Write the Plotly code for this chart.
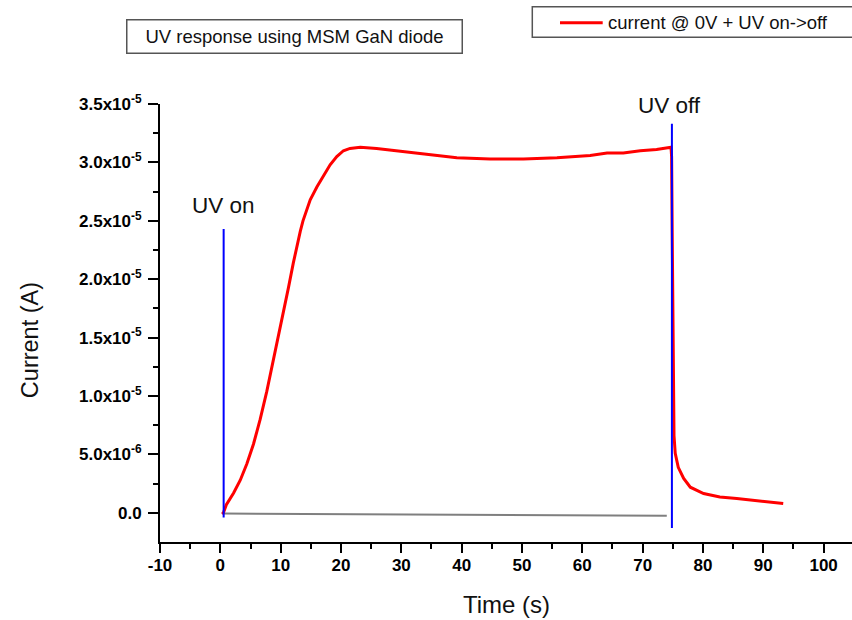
import numpy as np
import plotly.graph_objects as go

# ---- data (current in units of 1e-5 A) ----
time_s = [0.3, 0.5, 1.0, 1.5, 2.2, 3.3, 4.4, 5.5, 6.6, 7.7, 8.8, 9.7, 10.5, 11.3, 12.1,
          12.7, 13.25, 13.7, 14.3, 14.9, 16.0, 17.1, 18.2, 19.3, 20.4, 21.5, 23.2, 25.9,
          29.3, 32.6, 35.9, 39.2, 44.7, 50.25, 55.8, 58.5, 61.3, 64.1, 66.8, 69.6, 72.3,
          74.7, 74.8, 74.9, 75.0, 75.1, 75.2, 75.4, 75.9, 76.8, 77.9, 80.1, 82.8, 85.6,
          89.5, 93.3]
current_1e5A = [-0.01, 0.00, 0.07, 0.11, 0.17, 0.28, 0.42, 0.59, 0.80, 1.04, 1.31, 1.52, 1.71,
                1.93, 2.14, 2.29, 2.41, 2.50, 2.60, 2.68, 2.79, 2.89, 2.98, 3.05, 3.10, 3.12,
                3.13, 3.12, 3.10, 3.08, 3.06, 3.04, 3.03, 3.03, 3.04, 3.05, 3.06, 3.08, 3.08,
                3.10, 3.11, 3.13, 3.05, 2.40, 1.60, 1.00, 0.66, 0.51, 0.39, 0.295, 0.22,
                0.166, 0.137, 0.123, 0.103, 0.08]

baseline_t = [0.55, 25.0, 50.0, 74.0]
baseline_1e5A = [-0.005, -0.010, -0.018, -0.025]

uv_on_t = [0.55, 0.55]
uv_on_1e5A = [-0.04, 2.43]
uv_off_t = [74.85, 74.85]
uv_off_1e5A = [-0.13, 3.33]

x_ticks = list(range(-10, 101, 10))
x_tick_text = ["-10", "0", "10", "20", "30", "40", "50", "60", "70", "80", "90", "100"]
y_tick_vals_1e5 = [0.0, 0.5, 1.0, 1.5, 2.0, 2.5, 3.0, 3.5]
y_tick_text = ["0.0", "5.0x10<sup>-6</sup>", "1.0x10<sup>-5</sup>", "1.5x10<sup>-5</sup>",
               "2.0x10<sup>-5</sup>", "2.5x10<sup>-5</sup>", "3.0x10<sup>-5</sup>",
               "3.5x10<sup>-5</sup>"]
series_name = "current @ 0V + UV on->off"

SCALE = 1e-5
FONT = "Arial, Liberation Sans, sans-serif"

fig = go.Figure()
fig.add_trace(go.Scatter(x=baseline_t, y=np.array(baseline_1e5A) * SCALE, mode="lines",
                         line=dict(color="#7f7f7f", width=2), showlegend=False, hoverinfo="skip"))
fig.add_trace(go.Scatter(x=time_s, y=np.array(current_1e5A) * SCALE, mode="lines",
                         line=dict(color="#ff0000", width=3), name=series_name,
                         showlegend=False))
fig.add_trace(go.Scatter(x=uv_on_t, y=np.array(uv_on_1e5A) * SCALE, mode="lines",
                         line=dict(color="#0000ff", width=2), showlegend=False))
fig.add_trace(go.Scatter(x=uv_off_t, y=np.array(uv_off_1e5A) * SCALE, mode="lines",
                         line=dict(color="#0000ff", width=2), showlegend=False))

# plot area in screen px: x 160..852, y 104..541.7
def px(xp):
    return (xp - 160) / 692.0
def py(yp):
    return (541.7 - yp) / 437.7

fig.update_layout(
    width=852, height=620,
    margin=dict(l=160, r=0, t=104, b=78.3),
    paper_bgcolor="white", plot_bgcolor="white",
    font=dict(family=FONT, color="black"),
    showlegend=False,
    xaxis=dict(range=[-10, 104.7], tickvals=x_ticks, ticktext=x_tick_text, showline=True,
               linewidth=2, linecolor="black", ticks="outside", ticklen=9, tickwidth=2,
               tickcolor="black", tickfont=dict(size=17, weight="bold", family=FONT),
               showgrid=False, zeroline=False, ticklabelstandoff=-2,
               minor=dict(dtick=5, ticks="outside", ticklen=5, tickwidth=2,
                          tickcolor="black", showgrid=False)),
    yaxis=dict(range=[-2.49e-6, 3.5e-5], tickvals=np.array(y_tick_vals_1e5) * SCALE,
               ticktext=y_tick_text, showline=True, linewidth=2, linecolor="black",
               ticks="outside", ticklen=10, tickwidth=2, tickcolor="black",
               tickfont=dict(size=17, weight="bold", family=FONT), showgrid=False,
               zeroline=False, ticklabelstandoff=3,
               minor=dict(dtick=0.25e-5, tick0=0, ticks="outside", ticklen=5, tickwidth=2,
                          tickcolor="black", showgrid=False)),
)

# legend box (extends past the right edge as in the reference)
fig.add_shape(type="rect", xref="paper", yref="paper",
              x0=px(532.3), x1=px(880), y0=py(37.3), y1=py(6.7),
              line=dict(color="#555555", width=1.5), fillcolor="rgba(0,0,0,0)")
fig.add_shape(type="line", xref="paper", yref="paper",
              x0=px(560), x1=px(602.7), y0=py(22.7), y1=py(22.7),
              line=dict(color="#ff0000", width=3))
fig.add_annotation(xref="paper", yref="paper", x=px(606), y=py(22.7), text=series_name,
                   showarrow=False, xanchor="left", yanchor="middle",
                   font=dict(size=18.5, family=FONT, color="#111111"))

fig.add_annotation(xref="paper", yref="paper", x=px(294.4), y=py(37),
                   xanchor="center", yanchor="middle",
                   text="UV response using MSM GaN diode", showarrow=False,
                   width=330, height=28, borderpad=2, borderwidth=1.5, bordercolor="#555555",
                   font=dict(size=18.5, family=FONT, color="#111111"))
fig.add_annotation(x=0.6, y=2.635e-5, text="UV on", showarrow=False,
                   xanchor="center", yanchor="middle",
                   font=dict(size=22.5, family=FONT, color="#111111"))
fig.add_annotation(x=74.5, y=3.488e-5, text="UV off", showarrow=False,
                   xanchor="center", yanchor="middle",
                   font=dict(size=22.5, family=FONT, color="#111111"))
fig.add_annotation(xref="paper", yref="paper", x=px(30), y=py(340), text="Current (A)",
                   textangle=-90, showarrow=False, xanchor="center", yanchor="middle",
                   font=dict(size=23.5, family=FONT, color="#111111"))
fig.add_annotation(xref="paper", yref="paper", x=px(506), y=py(604), text="Time (s)",
                   showarrow=False, xanchor="center", yanchor="middle",
                   font=dict(size=24, family=FONT, color="#111111"))

fig.write_html("out.html", config={"displayModeBar": False},
               post_script="document.body.style.margin='0';document.body.style.overflow='hidden';")
